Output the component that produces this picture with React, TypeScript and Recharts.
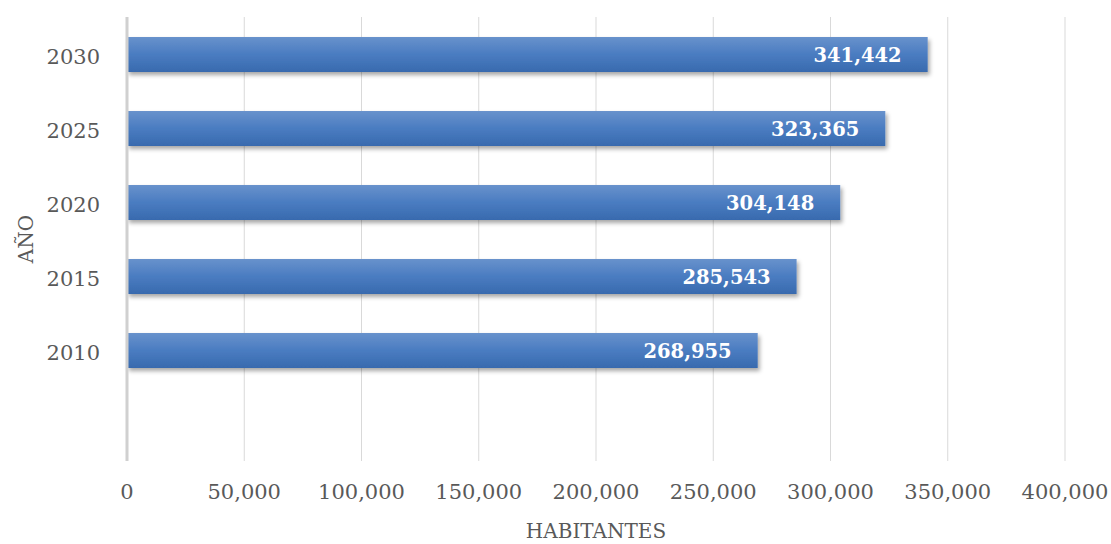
import React from "react"
import {
  Bar, BarChart, CartesianGrid, LabelList, XAxis, YAxis,
} from "recharts"

const years = ["2010", "2015", "2020", "2025", "2030"]
const habitantes = [268955, 285543, 304148, 323365, 341442]
const xTicks = [0, 50000, 100000, 150000, 200000, 250000, 300000, 350000, 400000]

// empty slot below 2010, like the original sheet
const rows = [
  { ano: " ", habitantes: null as number | null },
  ...years.map((y, i) => ({ ano: y, habitantes: habitantes[i] })),
]

const FONT = "'DejaVu Serif', serif"
const fmt = (v: number) => v.toLocaleString("en-US")

function YTitle({ viewBox }: any) {
  const cx = 26
  const cy = viewBox.y + viewBox.height / 2
  return (
    <text
      x={cx} y={cy} transform={`rotate(-90, ${cx}, ${cy})`}
      textAnchor="middle" dominantBaseline="central"
      fontFamily={FONT} fontSize={20} fill="#595959"
    >
      AÑO
    </text>
  )
}

export default function App() {
  return (
    <div style={{ position: "absolute", left: 0, top: 0, background: "#fff" }}>
      <BarChart
        width={1111} height={544} data={rows} layout="vertical"
        margin={{ top: 17, right: 46, bottom: 0, left: 0 }}
        barSize={35}
      >
        <defs>
          <linearGradient id="barFill" x1="0" y1="0" x2="0" y2="1">
            <stop offset="0%" stopColor="#6892cc" />
            <stop offset="50%" stopColor="#4a7cc1" />
            <stop offset="100%" stopColor="#386aae" />
          </linearGradient>
          <filter id="barShadow" x="-5%" y="-20%" width="110%" height="160%">
            <feDropShadow dx="2" dy="3" stdDeviation="2" floodColor="#000" floodOpacity="0.35" />
          </filter>
        </defs>
        <CartesianGrid horizontal={false} stroke="#d9d9d9" strokeWidth={1} />
        <XAxis
          type="number" domain={[0, 400000]} ticks={xTicks}
          tickFormatter={fmt} axisLine={false} tickLine={false}
          tickMargin={17} height={83} interval={0}
          tick={{ fill: "#595959", fontSize: 21, fontFamily: FONT }}
          label={{
            value: "HABITANTES", position: "insideBottom", offset: 6,
            fill: "#595959", fontSize: 20, fontFamily: FONT,
          }}
        />
        <YAxis
          type="category" dataKey="ano" reversed width={127}
          axisLine={{ stroke: "#d0d0d0", strokeWidth: 3 }} tickLine={false}
          tickMargin={21}
          tick={{ fill: "#595959", fontSize: 21, fontFamily: FONT, dy: 3 }}
          label={<YTitle />}
        />
        <Bar
          dataKey="habitantes" fill="url(#barFill)" filter="url(#barShadow)"
          isAnimationActive={false}
        >
          <LabelList
            dataKey="habitantes" position="insideRight" offset={26}
            formatter={(v: any) => (v == null ? "" : fmt(v))}
            fill="#ffffff" fontSize={19.5} fontWeight="bold" fontFamily={FONT}
            dy={1}
          />
        </Bar>
      </BarChart>
    </div>
  )
}
